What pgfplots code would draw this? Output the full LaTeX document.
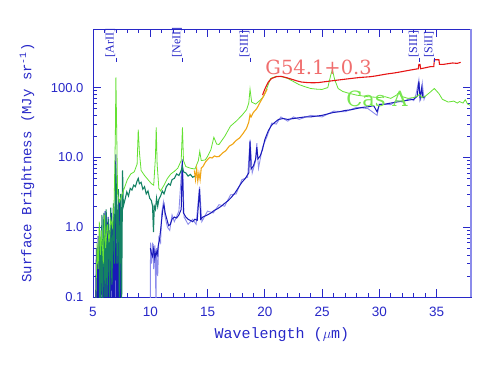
\documentclass[border=0pt]{standalone}
\usepackage{pgfplots}
\pgfplotsset{compat=1.18}
\usepackage{fontspec}
\setmainfont{Liberation Mono}
\newfontfamily\ticksfont{Liberation Sans}
\newfontfamily\titlefont{DejaVu Serif}
\newfontfamily\linefont{Liberation Serif}

\definecolor{axblue}{RGB}{40,40,200}
\definecolor{casgreen}{RGB}{100,225,50}
\definecolor{teal2}{RGB}{20,130,100}
\definecolor{orng}{RGB}{240,165,20}
\definecolor{redl}{RGB}{230,20,20}
\definecolor{navy2}{RGB}{25,25,185}
\definecolor{lblue}{RGB}{140,140,235}
\definecolor{titlered}{RGB}{240,110,110}
\definecolor{castext}{RGB}{120,230,80}

\tikzset{linelab/.style={rotate=90, anchor=south west, inner sep=0.3pt, text=axblue,
    font=\linefont\fontsize{12}{12}\selectfont}}

\begin{document}
\begin{tikzpicture}
\path[use as bounding box] (-93pt,-68pt) rectangle (397pt,297pt);
\begin{axis}[
  scale only axis,
  width=378pt, height=268pt,
  xmin=5, xmax=38,
  ymode=log, ymin=0.1, ymax=690,
  clip mode=individual,
  axis line style={axblue, line width=0.7pt},
  tick style={axblue, line width=0.7pt},
  tick align=inside,
  major tick length=8pt, minor tick length=4pt,
  xtick={5,10,...,35}, minor x tick num=4,
  ytick={0.1,1,10,100}, yticklabels={0.1,1.0,10.0,100.0},
  /pgf/number format/assume math mode=true,
  xticklabel style={font=\ticksfont\fontsize{13.5}{14}\selectfont, text=axblue, yshift=-7pt},
  yticklabel style={font=\ticksfont\fontsize{13}{14}\selectfont, text=axblue, xshift=-6pt},
  xlabel={Wavelength ($\mu$m)},
  ylabel={Surface Brightness (MJy sr\textsuperscript{-1})},
  xlabel style={at={(axis description cs:0.5,0)}, anchor=base, yshift=-41pt,
    font=\fontsize{15}{16}\selectfont, text=axblue},
  ylabel style={at={(axis description cs:-0.1746,0.5)}, anchor=center,
    font=\fontsize{14}{15}\selectfont, text=axblue},
]
% light blue uncertainty
\addplot[lblue, line width=0.9pt] coordinates {
(10.0,0.05) (10.02,0.6) (10.1,0.3) (10.2,0.6) (10.3,0.25) (10.4,0.55) (10.5,0.08)
(10.55,0.5) (10.65,0.2) (10.75,0.7) (10.9,0.6) (11.0,1.6) (11.15,2.3) (11.3,1.4)
(11.5,1.0) (11.7,0.9) (11.9,1.5) (12.1,1.2) (12.5,1.7) (12.8,9.5) (12.95,1.4)
(13.3,1.1) (13.7,1.3) (14.0,1.1) (14.3,3.8) (14.5,1.2) (15.0,1.7) (15.5,1.6)
(16.0,2.1) (16.5,2.0) (17.0,2.9) (17.5,3.0) (18.0,4.8) (18.5,5.2) (18.71,18)
(18.9,6) (19.2,9) (19.3,16) (19.45,7) (19.8,14) (20.2,20) (20.6,31) (21.0,30)
(21.4,38) (22.0,33) (22.5,38) (23.0,35) (24.0,40) (25.0,38) (26.0,46) (27.0,45)
(28.0,52) (29.0,50) (29.8,40) (30.0,58) (31.0,57) (31.5,65) (32.0,62) (32.7,70)
(33.0,65) (33.2,80) (33.45,130) (33.6,65) (33.75,115) (33.9,68) (34.0,76)
};
% navy, short wavelengths
\addplot[navy2, line width=1pt] coordinates {
(5.2,0.05) (5.3,0.5) (5.35,0.05) (5.45,0.75) (5.5,0.05) (5.6,0.4) (5.65,0.05)
(5.75,0.9) (5.8,0.05) (5.9,0.6) (5.95,0.05) (6.05,1.7) (6.1,0.05) (6.2,1.2)
(6.25,0.05) (6.32,1.4) (6.38,0.05) (6.45,0.9) (6.5,0.05) (6.6,1.6) (6.65,0.05)
(6.72,1.1) (6.78,0.05) (6.85,0.7) (6.9,0.05) (6.99,11) (7.05,0.05) (7.15,0.8)
(7.2,0.05) (7.3,2.5) (7.35,0.05) (7.45,0.5) (7.5,0.05)
};
% navy, long wavelengths
\addplot[navy2, line width=1pt] coordinates {
(10.0,0.5) (10.1,0.42) (10.2,0.38) (10.3,0.5) (10.4,0.35) (10.5,0.45) (10.6,0.4)
(10.7,0.55) (10.8,0.65) (10.9,0.9) (11.0,1.3) (11.1,1.8) (11.2,2.1) (11.3,1.6)
(11.45,1.3) (11.6,1.05) (11.75,1.1) (11.9,1.3) (12.1,1.4) (12.3,1.35) (12.5,1.5)
(12.7,1.8) (12.8,9) (12.9,1.6) (13.1,1.4) (13.3,1.3) (13.5,1.25) (13.7,1.2)
(13.9,1.3) (14.1,1.25) (14.3,3.5) (14.4,1.3) (14.6,1.4) (14.8,1.45) (15.0,1.5)
(15.3,1.6) (15.6,1.75) (15.9,1.85) (16.2,2.0) (16.5,2.2) (16.8,2.4) (17.1,2.7)
(17.4,3.1) (17.7,3.7) (18.0,4.4) (18.3,5.0) (18.6,6.0) (18.71,17) (18.8,6.8)
(19.0,7.5) (19.2,9.5) (19.3,14) (19.4,9.5) (19.6,10.5) (19.8,13) (20.0,18)
(20.3,24) (20.6,29) (20.9,32) (21.2,35) (21.6,36) (22.0,35) (22.5,36) (23.0,37)
(23.5,38) (24.0,38) (24.5,39) (25.0,40) (25.5,42) (26.0,44) (26.5,45) (27.0,47)
(27.5,48) (28.0,50) (28.5,52) (29.0,53) (29.5,55) (29.8,45) (30.0,57) (30.5,58)
(31.0,60) (31.5,62) (32.0,64) (32.5,66) (33.0,68) (33.3,75) (33.45,122) (33.55,70)
(33.7,100) (33.8,72) (34.0,74)
};
% teal
\addplot[teal2, line width=1.1pt] coordinates {
(5.55,0.08) (5.6,0.9) (5.68,0.08) (5.78,1.5) (5.85,0.08) (5.95,1.6) (6.05,0.1)
(6.15,1.8) (6.22,0.1) (6.35,1.3) (6.45,0.1) (6.55,1.9) (6.65,0.15) (6.78,2.2)
(6.88,0.3) (6.97,8) (7.03,4) (7.1,0.3) (7.22,3.5) (7.3,0.1) (7.42,3.0) (7.5,0.08)
(7.58,6.5) (7.65,2.0) (7.8,2.5) (7.95,3.2) (8.1,2.8) (8.25,3.6) (8.4,3.4)
(8.55,4.0) (8.7,3.8) (8.85,4.6) (8.95,5.0) (9.05,4.2) (9.2,4.4) (9.35,3.5)
(9.5,3.8) (9.65,3.0) (9.8,3.3) (9.95,2.6) (10.1,2.4) (10.2,2.0) (10.28,0.85)
(10.35,2.0) (10.45,1.8) (10.55,2.6) (10.65,2.0) (10.75,2.5) (10.9,2.8)
(11.05,3.3) (11.2,3.0) (11.4,3.8) (11.6,4.2) (11.75,4.0) (11.9,4.8) (12.1,5.0)
(12.3,5.8) (12.5,5.5) (12.7,6.5) (12.8,7.4) (12.9,6.2) (13.1,6.0) (13.3,5.4)
(13.5,5.7) (13.7,5.2) (13.9,5.4)
};
% Cas A
\addplot[casgreen, line width=0.8pt] coordinates {
(5.25,0.08) (5.35,0.6) (5.45,0.25) (5.55,1.2) (5.65,0.4) (5.75,0.9) (5.9,0.3)
(6.0,1.5) (6.1,0.5) (6.25,1.1) (6.4,0.6) (6.55,1.3) (6.7,1.0) (6.85,2.5)
(6.95,20) (7.0,140) (7.06,30) (7.15,3) (7.3,2.3) (7.5,2.8) (7.7,3.5) (8.0,4.8)
(8.3,5.8) (8.6,6.2) (8.85,8) (8.95,25) (9.05,12) (9.2,6.5) (9.5,5.5) (9.8,4.8)
(10.1,4.2) (10.3,4.0) (10.45,10) (10.52,27) (10.6,8) (10.75,3.6) (10.9,3.3)
(11.2,4.0) (11.5,5.0) (11.8,5.8) (12.1,6.3) (12.4,7.0) (12.7,9) (12.81,27)
(12.9,9) (13.1,7.4) (13.5,7.0) (13.9,6.8) (14.2,9) (14.32,12.2) (14.45,9)
(14.8,9.2) (15.0,10.3) (15.3,13) (15.55,19.4) (15.8,15.5) (16.0,15.3) (16.5,20)
(17.0,28) (17.5,33) (18.0,40) (18.4,48) (18.6,60) (18.71,95) (18.85,62)
(19.2,58) (19.6,66) (19.9,75) (20.2,100) (20.5,135) (21.0,145) (21.5,143)
(22.0,135) (22.5,122) (23.0,110) (23.5,103) (24.0,97) (24.5,95) (25.0,94)
(25.5,100) (25.75,150) (25.9,180) (26.1,130) (26.4,97) (26.8,88) (27.2,84)
(28.0,78) (29.0,74) (30.0,72) (30.5,74) (31.0,70) (31.5,78) (31.7,85) (31.9,75)
(32.5,70) (33.0,72) (33.3,75) (33.5,80) (33.7,72) (34.0,75) (34.4,85) (34.8,97)
(35.2,82) (35.5,68) (36.0,62) (36.5,64) (36.8,60) (37.0,63) (37.3,60) (37.5,67)
(37.7,58) (38.0,55)
};
% orange
\addplot[orng, line width=1.1pt] coordinates {
(13.85,6.5) (13.95,4.8) (14.05,6.8) (14.15,4.6) (14.25,6.0) (14.35,4.8)
(14.45,7.0) (14.6,7.4) (14.8,8.5) (15.0,9.3) (15.2,10.0) (15.4,9.8) (15.6,10.5)
(15.8,10.2) (16.0,10.3) (16.3,11.5) (16.6,12.5) (16.9,14.5) (17.2,15.5)
(17.5,17.5) (17.8,19) (18.1,22) (18.4,26) (18.6,32) (18.71,41) (18.8,38)
(19.0,44) (19.3,50) (19.6,62) (19.9,76) (20.2,95)
};
% G54.1+0.3 long-low
\addplot[redl, line width=1.1pt] coordinates {
(19.8,78) (20.0,95) (20.3,120) (20.6,135) (21.0,143) (21.4,145) (21.8,140)
(22.2,134) (22.7,126) (23.2,120) (23.7,118) (24.2,117) (24.7,118) (25.2,121)
(25.7,124) (26.2,127) (26.7,130) (27.2,133) (27.7,136) (28.2,139) (28.7,141)
(29.2,143) (29.7,147) (30.2,152) (30.7,157) (31.2,161) (31.7,166) (32.2,172)
(32.7,178) (33.2,184) (33.4,186) (33.45,215) (33.55,215) (33.6,186) (34.0,192)
(34.5,200) (34.75,200) (34.8,250) (35.2,250) (35.25,215) (35.6,215) (36.0,220)
(36.4,225) (36.8,222) (37.1,230)
};
\draw[lblue, line width=1.6pt] (rel axis cs:1,0) -- (rel axis cs:1,1);
\node[anchor=base west, text=titlered, inner sep=0, font=\titlefont\fontsize{19.5}{20}\selectfont]
  at (axis cs:20.04,153) {G54.1+0.3};
\node[anchor=base west, text=castext, inner sep=0, font=\titlefont\fontsize{21}{22}\selectfont]
  at (axis cs:27.1,53.5) {Cas A};
\node[linelab] at (axis cs:6.99,268) {[ArII]};
\draw[axblue, line width=0.5pt] (axis cs:6.99,268) -- (axis cs:6.99,235);
\node[linelab] at (axis cs:12.81,268) {[NeII]};
\draw[axblue, line width=0.5pt] (axis cs:12.81,268) -- (axis cs:12.81,235);
\node[linelab] at (axis cs:18.71,268) {[SIII]};
\draw[axblue, line width=0.5pt] (axis cs:18.71,268) -- (axis cs:18.71,235);
\node[linelab] at (axis cs:33.48,268) {[SIII]};
\draw[axblue, line width=0.5pt] (axis cs:33.48,268) -- (axis cs:33.48,235);
\node[linelab] at (axis cs:34.82,268) {[SiII]};
\draw[axblue, line width=0.5pt] (axis cs:34.82,268) -- (axis cs:34.82,235);
\end{axis}
\end{tikzpicture}
\end{document}
